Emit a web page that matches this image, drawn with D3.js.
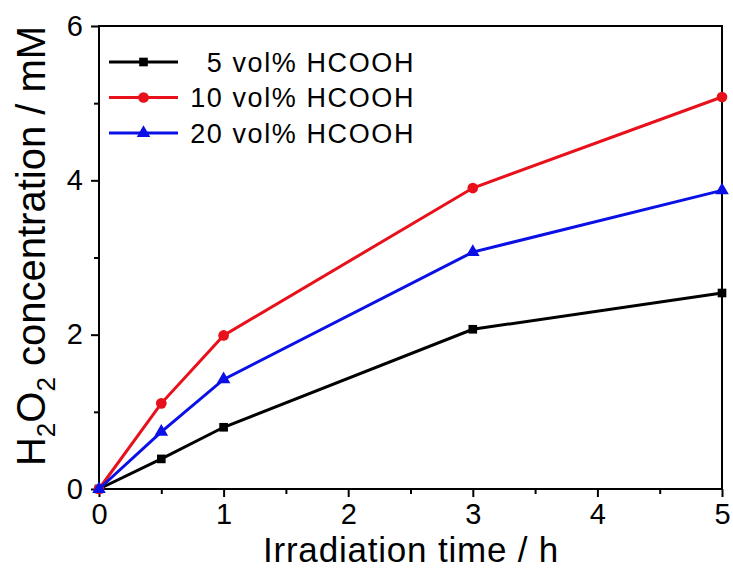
<!DOCTYPE html>
<html>
<head>
<meta charset="utf-8">
<script src="https://cdn.jsdelivr.net/npm/d3@7"></script>
<style>
  body { margin: 0; background: #fff; }
  svg { display: block; font-family: "Liberation Sans", Arial, sans-serif; }
</style>
</head>
<body>
<svg id="chart"></svg>
<script>
// data
const times = [0, 0.5, 1, 3, 5];
const black5 = [0, 0.39, 0.80, 2.07, 2.54];
const red10 = [0, 1.11, 1.99, 3.90, 5.08];
const blue20 = [0, 0.74, 1.42, 3.07, 3.87];
const seriesNames = ["5 vol% HCOOH", "10 vol% HCOOH", "20 vol% HCOOH"];
const xTicks = [0, 1, 2, 3, 4, 5];
const yTicks = [0, 2, 4, 6];

const w = 733;
const h = 569;
const margin = { left: 99, right: 11, top: 26, bottom: 80 };

const svg = d3.select('#chart').attr('width', w).attr('height', h);

const xScale = d3.scaleLinear().domain([0, 5]).range([margin.left, w - margin.right]);
const yScale = d3.scaleLinear().domain([0, 6]).range([h - margin.bottom, margin.top]);

const series = [
  { name: seriesNames[0], values: black5, color: '#000000', shape: d3.symbolSquare, size: 75 },
  { name: seriesNames[1], values: red10, color: '#e8101a', shape: d3.symbolCircle, size: 90 },
  { name: seriesNames[2], values: blue20, color: '#0a10e6', shape: d3.symbolTriangle, size: 80 }
];

// frame
svg.append('rect')
  .attr('x', margin.left).attr('y', margin.top)
  .attr('width', w - margin.left - margin.right)
  .attr('height', h - margin.top - margin.bottom)
  .attr('fill', 'none').attr('stroke', '#000').attr('stroke-width', 2);

// axes
const xAxis = d3.axisBottom(xScale).tickValues(xTicks).tickFormat(d3.format('d')).tickSize(8).tickPadding(6);
const xMinor = d3.axisBottom(xScale).tickValues([0.5, 1.5, 2.5, 3.5, 4.5]).tickFormat('').tickSize(5);
const yAxis = d3.axisLeft(yScale).tickValues(yTicks).tickFormat(d3.format('d')).tickSize(8).tickPadding(8);
const yMinor = d3.axisLeft(yScale).tickValues([1, 3, 5]).tickFormat('').tickSize(5);

const styleAxis = g => {
  g.select('.domain').remove();
  g.selectAll('line').attr('stroke', '#000').attr('stroke-width', 2);
  g.selectAll('text').attr('font-size', 29).attr('fill', '#000');
};

svg.append('g').attr('transform', 'translate(0,' + (h - margin.bottom) + ')').call(xAxis).call(styleAxis);
svg.append('g').attr('transform', 'translate(0,' + (h - margin.bottom) + ')').call(xMinor).call(styleAxis);
svg.append('g').attr('transform', 'translate(' + margin.left + ',0)').call(yAxis).call(styleAxis);
svg.append('g').attr('transform', 'translate(' + margin.left + ',0)').call(yMinor).call(styleAxis);

// lines and markers
const line = d3.line().x((d, i) => xScale(times[i])).y(d => yScale(d));

series.forEach(s => {
  svg.append('path')
    .datum(s.values)
    .attr('d', line)
    .attr('fill', 'none')
    .attr('stroke', s.color)
    .attr('stroke-width', 3);
  svg.selectAll(null)
    .data(s.values)
    .enter()
    .append('path')
    .attr('d', d3.symbol().type(s.shape).size(s.size))
    .attr('transform', (d, i) => 'translate(' + xScale(times[i]) + ',' + yScale(d) + ')')
    .attr('fill', s.color);
});

// legend
const legend = svg.append('g');
series.forEach((s, i) => {
  const ly = 62 + i * 35.5;
  legend.append('line')
    .attr('x1', 109).attr('x2', 178).attr('y1', ly).attr('y2', ly)
    .attr('stroke', s.color).attr('stroke-width', 3);
  legend.append('path')
    .attr('d', d3.symbol().type(s.shape).size(s.size))
    .attr('transform', 'translate(143.5,' + ly + ')')
    .attr('fill', s.color);
  legend.append('text')
    .attr('x', 415).attr('y', ly + 9.5)
    .attr('text-anchor', 'end')
    .attr('font-size', 27)
    .attr('letter-spacing', 1.6)
    .text(s.name);
});

// axis titles
svg.append('text')
  .attr('x', 411)
  .attr('y', 561.5)
  .attr('text-anchor', 'middle')
  .attr('font-size', 35)
  .attr('letter-spacing', 0.8)
  .text('Irradiation time / h');

const yTitle = svg.append('text')
  .attr('transform', 'translate(45,246) rotate(-90)')
  .attr('text-anchor', 'middle')
  .attr('font-size', 40);
yTitle.append('tspan').text('H');
yTitle.append('tspan').attr('font-size', 26).attr('dy', 10).text('2');
yTitle.append('tspan').attr('dy', -10).text('O');
yTitle.append('tspan').attr('font-size', 26).attr('dy', 10).text('2');
yTitle.append('tspan').attr('dy', -10).text(' concentration / mM');
</script>
</body>
</html>
